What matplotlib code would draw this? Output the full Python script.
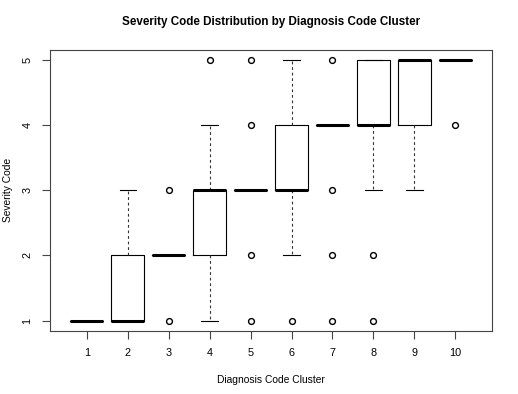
"""Boxplot of severity code per diagnosis code cluster (R base graphics look)."""

import matplotlib
matplotlib.use("Agg")
import matplotlib.pyplot as plt

plt.rcParams["font.family"] = ["Liberation Sans", "DejaVu Sans"]

clusters = [1, 2, 3, 4, 5, 6, 7, 8, 9, 10]
q1 = [1, 1, 2, 2, 3, 3, 4, 4, 4, 5]
medians = [1, 1, 2, 3, 3, 3, 4, 4, 5, 5]
q3 = [1, 2, 2, 3, 3, 4, 4, 5, 5, 5]
whisker_lo = [1, 1, 2, 1, 3, 2, 4, 3, 3, 5]
whisker_hi = [1, 3, 2, 4, 3, 5, 4, 5, 5, 5]
outliers = [
    [],
    [],
    [3, 1],
    [5],
    [5, 4, 2, 1],
    [1],
    [5, 3, 2, 1],
    [2, 1],
    [],
    [4],
]

stats = []
for i, c in enumerate(clusters):
    stats.append({
        "label": str(c),
        "med": medians[i],
        "q1": q1[i],
        "q3": q3[i],
        "whislo": whisker_lo[i],
        "whishi": whisker_hi[i],
        "fliers": outliers[i],
    })

fig = plt.figure(figsize=(5.18, 3.94), dpi=100)
ax = fig.add_axes([0.0965, 0.16, 0.8535, 0.714])

ax.bxp(
    stats,
    positions=clusters,
    widths=0.8,
    capwidths=0.4,
    boxprops=dict(color="black", linewidth=0.8),
    medianprops=dict(color="black", linewidth=2.2, solid_capstyle="butt"),
    whiskerprops=dict(color="#333333", linewidth=0.8, linestyle=(0, (2.5, 2.5))),
    capprops=dict(color="black", linewidth=0.8),
    flierprops=dict(marker="o", markersize=4.2, markerfacecolor="none",
                    markeredgecolor="black", markeredgewidth=1.0),
)

ax.set_xlim(0.1, 10.9)
ax.set_ylim(0.84, 5.16)
ax.set_xticks(clusters)
ax.set_xticklabels([str(c) for c in clusters])
ax.set_yticks([1, 2, 3, 4, 5])
ax.set_yticklabels(["1", "2", "3", "4", "5"], rotation=90, va="center")

for side in ax.spines.values():
    side.set_color("#444444")
    side.set_linewidth(0.8)
ax.tick_params(direction="out", length=5.5, width=0.8, color="#444444",
               labelsize=7.8, pad=7)

ax.set_xlabel("Diagnosis Code Cluster", fontsize=7.4)
ax.set_ylabel("Severity Code", fontsize=7.4)
ax.xaxis.set_label_coords(0.5, -0.155)
ax.yaxis.set_label_coords(-0.084, 0.5)
ax.set_title("Severity Code Distribution by Diagnosis Code Cluster",
             fontsize=8.4, fontweight="bold", pad=18)

fig.savefig("out.png", dpi=100)
